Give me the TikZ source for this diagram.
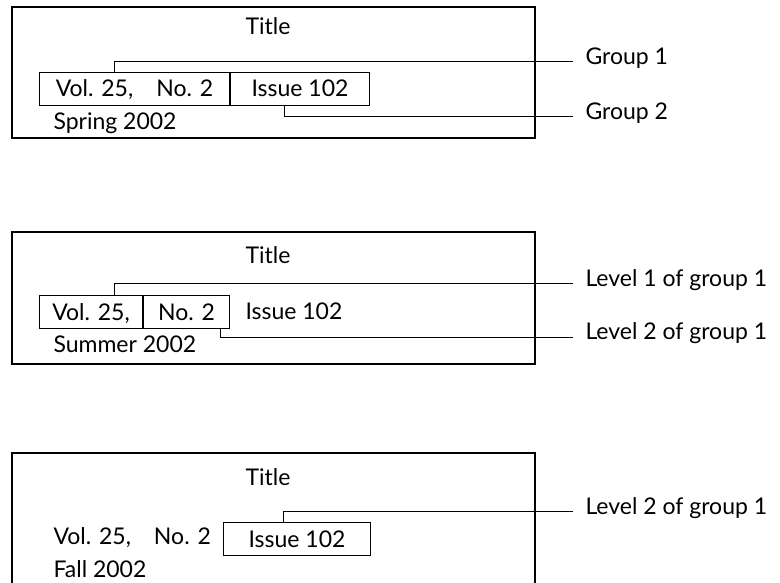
\documentclass[tikz,border=0pt]{standalone}
\usepackage{fontspec}
\setmainfont{Lato}

\begin{document}
\begin{tikzpicture}[x=1pt,y=-1pt,line width=1pt,font=\fontsize{23}{27}\selectfont]

\tikzstyle{frame}=[draw,line width=1.2pt]
\tikzstyle{field}=[draw,anchor=north west,minimum height=33pt,inner sep=0pt,text height=16pt,text depth=0pt]
\tikzstyle{txt}=[anchor=base west,inner sep=0pt]
\tikzstyle{lab}=[anchor=west,inner xsep=12pt,inner ysep=0pt,text height=1ex,text depth=0pt]

\clip (0,0) rectangle (780,583);

% first record
\draw[frame] (12,7) rectangle (535,138);
\node[anchor=base] (t1) at (268,35) {Title};
\node[field,minimum width=190pt] (vol1) at (39,72) {Vol. 25,\quad No. 2};
\node[field,minimum width=139pt] (iss1) at (vol1.north east) {Issue 102};
\node[txt] (d1) at (53,130) {Spring 2002};
\node[lab] (g1) at (573,61.5) {Group 1};
\node[lab] (g2) at (573,117) {Group 2};
\draw ([xshift=75pt]vol1.north west) |- (g1.west);
\draw ([xshift=54pt]iss1.south west) |- (g2.west);

% second record
\draw[frame] (12,232) rectangle (535,364);
\node[anchor=base] (t2) at (268,263) {Title};
\node[field,minimum width=103pt] (vol2) at (39,295) {Vol. 25,};
\node[field,minimum width=86pt] (no2) at (vol2.north east) {No. 2};
\node[txt] (iss2) at (245,319) {Issue 102};
\node[txt] (d2) at (53,352) {Summer 2002};
\node[lab] (l1) at (573,283.5) {Level 1 of group 1};
\node[lab] (l2) at (573,337) {Level 2 of group 1};
\draw ([xshift=75pt]vol2.north west) |- (l1.west);
\draw ([xshift=77pt]no2.south west) |- (l2.west);

% third record
\draw[frame] (12,453) rectangle (535,600);
\node[anchor=base] (t3) at (268,485) {Title};
\node[txt] (vol3) at (53,544) {Vol. 25,\quad No. 2};
\node[field,minimum width=147pt] (iss3) at (223,522) {Issue 102};
\node[txt] (d3) at (53,577) {Fall 2002};
\node[lab] (l3) at (573,511.5) {Level 2 of group 1};
\draw ([xshift=60pt]iss3.north west) |- (l3.west);

\end{tikzpicture}
\end{document}
